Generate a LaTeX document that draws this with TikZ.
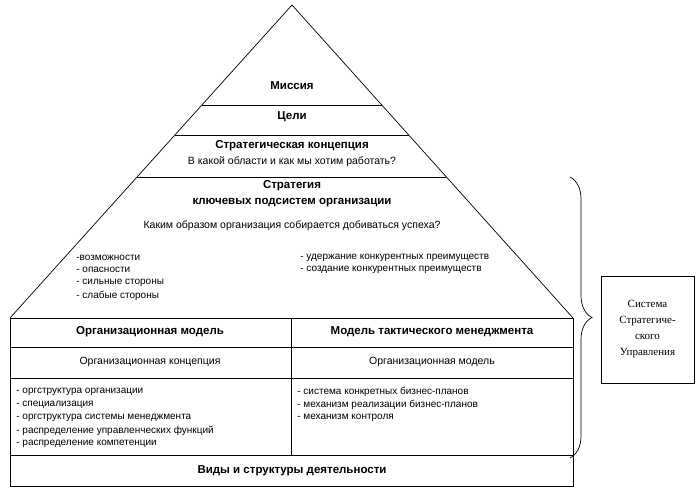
\documentclass[tikz,border=0pt]{standalone}
\usepackage{fontspec}
\setmainfont{Liberation Sans}
\newfontfamily\serifA{Liberation Serif}
\usetikzlibrary{decorations.pathreplacing}
\begin{document}
\begin{tikzpicture}[x=1pt,y=-1pt,line width=0.7pt,
  t/.style={font=\fontsize{10.5}{11}\selectfont,inner sep=0pt},
  b/.style={font=\fontsize{11.5}{12}\selectfont\bfseries,inner sep=0pt},
  l/.style={font=\fontsize{10}{11}\selectfont,inner sep=0pt,anchor=west}]
\useasboundingbox (0,0) rectangle (699,496);
\coordinate (apex) at (292,5);
\coordinate (bl) at (10,318);
\coordinate (br) at (573,318);
\draw (bl) -- (apex) -- (br);
\draw (202,105) -- (382,105);
\draw (175,135) -- (409,135);
\draw (137,177) -- (446,177);
\draw (10,318) rectangle (573,486);
\draw (10,347) -- (573,347);
\draw (10,378) -- (573,378);
\draw (10,455) -- (573,455);
\draw (291,318) -- (291,455);
\node[b] (m) at (292,86) {Миссия};
\node[b] (c) at (292,117) {Цели};
\node[b] (sk) at (292,146) {Стратегическая концепция};
\node[t] (q1) at (292,162) {В какой области и как мы хотим работать?};
\node[b] (s1) at (292,186) {Стратегия};
\node[b] (s2) at (292,203) {ключевых подсистем организации};
\node[t] (q2) at (292,226) {Каким образом организация собирается добиваться успеха?};
\node[l] at (76,258) {-возможности};
\node[l] at (76,270) {- опасности};
\node[l] at (76,283) {- сильные стороны};
\node[l] at (76,296) {- слабые стороны};
\node[l] at (300,258) {- удержание конкурентных преимуществ};
\node[l] at (300,270) {- создание конкурентных преимуществ};
\node[b] at (150,332) {Организационная модель};
\node[b] at (432,332) {Модель тактического менеджмента};
\node[t] at (150,362) {Организационная концепция};
\node[t] at (432,362) {Организационная модель};
\node[l] at (16,392) {- оргструктура организации};
\node[l] at (16,405) {- специализация};
\node[l] at (16,418) {- оргструктура системы менеджмента};
\node[l] at (16,431) {- распределение управленческих функций};
\node[l] at (16,444) {- распределение компетенции};
\node[l] at (297,392) {- система конкретных бизнес-планов};
\node[l] at (297,405) {- механизм реализации бизнес-планов};
\node[l] at (297,418) {- механизм контроля};
\node[b] at (292,471) {Виды и структуры деятельности};
\coordinate (bt) at (570,177);
\coordinate (bb) at (570,458);
\draw[decorate,decoration={brace,amplitude=22pt,aspect=0.5}] (bt) -- (bb);
\node[draw,minimum width=93,minimum height=107,inner sep=0pt,align=center,
  font=\serifA\fontsize{11}{16}\selectfont] (box) at (647.5,329.5)
  {Система\\Стратегиче-\\ского\\Управления};
\end{tikzpicture}
\end{document}
